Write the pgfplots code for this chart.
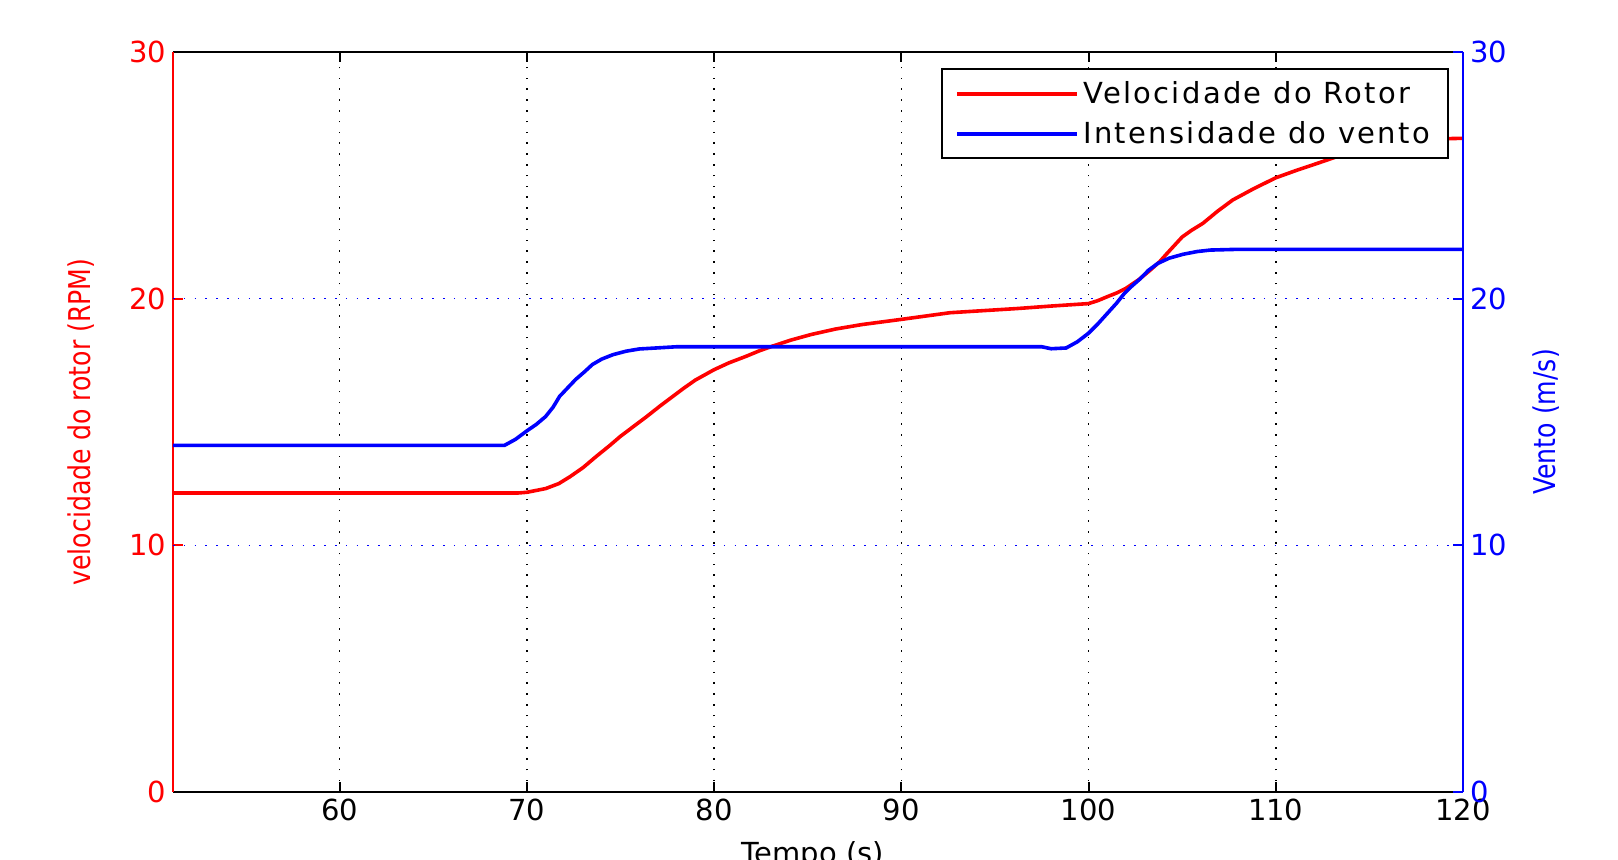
\documentclass[border=0pt]{standalone}
\usepackage{fontspec}
\setmainfont{DejaVu Sans}
\newfontfamily\legfont[LetterSpace=8]{DejaVu Sans}
\usepackage{pgfplots}
\pgfplotsset{compat=1.18}
\begin{document}
\begin{tikzpicture}
\pgfplotsset{
  every axis/.append style={
    width=645pt, height=370pt, scale only axis,
    xmin=51.1, xmax=120, ymin=0, ymax=30,
    ytick={0,10,20,30},
    /pgf/number format/assume math mode=true,
    tick label style={font=\fontsize{14.5}{16}\selectfont},
    major tick length=5pt,
    tick align=inside,
  },
}
\begin{axis}[
  name=a1,
  axis x line*=box, axis y line*=left,
  xtick={60,70,...,120}, xtick pos=both, ytick pos=left,
  xmajorgrids,
  major x grid style={black, line width=0.8pt, dash pattern=on 0.8pt off 4.6pt},
  extra y ticks={10,20}, extra y tick labels={},
  extra y tick style={grid=major, major grid style={blue, line width=0.8pt, dash pattern=on 0.8pt off 4.6pt}, major tick length=0pt},
  x axis line style={black, line width=1pt, -},
  y axis line style={red, line width=1pt, -},
  xtick style={black, line width=1pt},
  ytick style={red, line width=1pt},
  yticklabel style={red},
  xticklabel style={black},
  ylabel={\scalebox{0.84}[1]{velocidade do rotor (RPM)}},
  ylabel style={red, font=\fontsize{15}{17}\selectfont, at={(axis description cs:-0.0713,0.5)}, anchor=center, inner sep=0pt},
  xlabel={Tempo (s)},
  xlabel style={font=\fontsize{14.5}{16}\selectfont, at={(axis description cs:0.496,0)}, anchor=north, yshift=-24.5pt, inner sep=0pt},
]
\addplot[red, line width=1.8pt] coordinates {
(51.1,12.12) (69.5,12.12) (70,12.15) (71,12.3) (71.7,12.5) (72.3,12.78) (73,13.15) (73.7,13.6)
(74.4,14.03) (75,14.42) (75.7,14.82) (76.4,15.22) (77.1,15.64) (77.8,16.04) (78.4,16.38) (79,16.7) (80,17.12) (80.8,17.4) (81.7,17.66)
(82.4,17.88) (83.1,18.07) (84.1,18.32) (85.2,18.55) (86.5,18.77) (87.9,18.95) (90,19.16) (92.6,19.43) (96.2,19.6)
(98,19.7) (100,19.8) (100.5,19.92) (101,20.08) (101.5,20.23) (102,20.42) (102.7,20.78) (103.3,21.16) (103.8,21.5) (104.2,21.84)
(104.6,22.17) (105,22.5) (105.5,22.77) (106.1,23.05) (106.9,23.55) (107.7,24.0) (108.8,24.45) (110,24.9) (111.1,25.2) (112.2,25.48) (114,25.95)
(116,26.3) (118,26.47) (120,26.5)
};
\end{axis}
\begin{axis}[
  axis x line=none, axis y line*=right,
  ytick pos=right,
  y axis line style={blue, line width=1pt, -},
  ytick style={blue, line width=1pt},
  yticklabel style={blue},
  ylabel={\scalebox{0.84}[1]{Vento (m/s)}},
  ylabel style={blue, font=\fontsize{15}{17}\selectfont, at={(axis description cs:1.0646,0.5)}, anchor=center, inner sep=0pt, rotate=0},
  legend style={at={(axis description cs:0.989,0.978)}, anchor=north east,
    draw=black, line width=1pt, font=\fontsize{14.5}{17}\legfont,
    inner xsep=7pt, inner ysep=4pt, row sep=3.5pt},
  legend cell align=left,
  legend image code/.code={\draw[#1] (0pt,0pt) -- (60pt,0pt);},
]
\addlegendimage{red, line width=1.8pt}
\addlegendentry{Velocidade do Rotor}
\addplot[blue, line width=1.8pt] coordinates {
(51.1,14.05) (68.8,14.05) (69.4,14.3) (70,14.64) (70.5,14.9) (71,15.22) (71.4,15.6) (71.75,16.04) (72.2,16.4) (72.6,16.72)
(73.1,17.05) (73.5,17.33) (74,17.55) (74.6,17.73) (75.3,17.87) (76,17.96) (78,18.05) (97.5,18.05) (98,17.97)
(98.8,18.0) (99.4,18.25) (100,18.6) (100.5,18.98) (101,19.4) (101.5,19.82) (101.9,20.2) (102.3,20.5) (102.75,20.8) (103.2,21.15) (103.7,21.43)
(104.3,21.64) (105.05,21.8) (105.8,21.91) (106.5,21.97) (108,22.0) (120,22.0)
};
\addlegendentry{Intensidade do vento}
\end{axis}
\pgfresetboundingbox
\path[use as bounding box] (-86.5pt,-34pt) rectangle (722.5pt,396pt);
\end{tikzpicture}
\end{document}
